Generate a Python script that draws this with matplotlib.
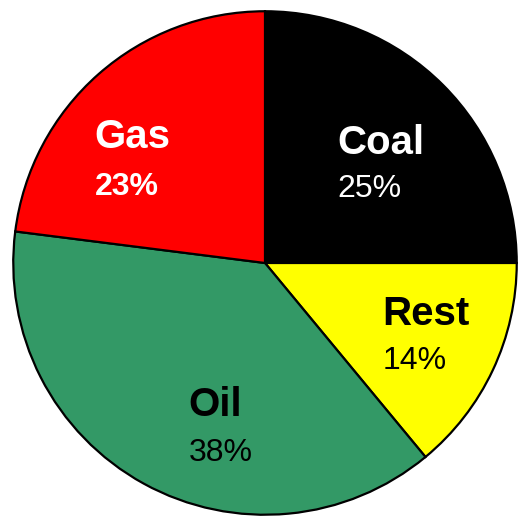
import matplotlib
matplotlib.use("Agg")
import matplotlib.pyplot as plt

categories = ["Coal", "Rest", "Oil", "Gas"]
shares = [25, 14, 38, 23]
colors = ["#000000", "#FFFF00", "#339966", "#FF0000"]
name_colors = ["white", "black", "black", "white"]
pct_weights = ["normal", "normal", "normal", "bold"]
# label anchors (left, baseline) in data units
name_pos = [(0.289, 0.431), (0.466, -0.245), (-0.304, -0.609), (-0.676, 0.458)]
pct_pos = [(0.289, 0.261), (0.466, -0.423), (-0.304, -0.787), (-0.676, 0.269)]

plt.rcParams['font.family'] = ['Liberation Sans', 'DejaVu Sans']
fig = plt.figure(figsize=(5.18, 5.17), dpi=100)
ax = fig.add_axes([12/518, 1/517, 506/518, 506/517])
ax.pie(shares, colors=colors, startangle=90, counterclock=False,
       wedgeprops=dict(edgecolor="black", linewidth=1.6), radius=1)
ax.set_xlim(-1.005, 1.005)
ax.set_ylim(-1.005, 1.005)
ax.set_aspect("equal")
ax.axis("off")

for i, cat in enumerate(categories):
    ax.text(name_pos[i][0], name_pos[i][1], cat, color=name_colors[i],
            fontsize=29, fontweight="bold", ha="left", va="baseline")
    ax.text(pct_pos[i][0], pct_pos[i][1], f"{shares[i]}%", color=name_colors[i],
            fontsize=23, fontweight=pct_weights[i], ha="left", va="baseline")

fig.savefig("out.png", dpi=100)
